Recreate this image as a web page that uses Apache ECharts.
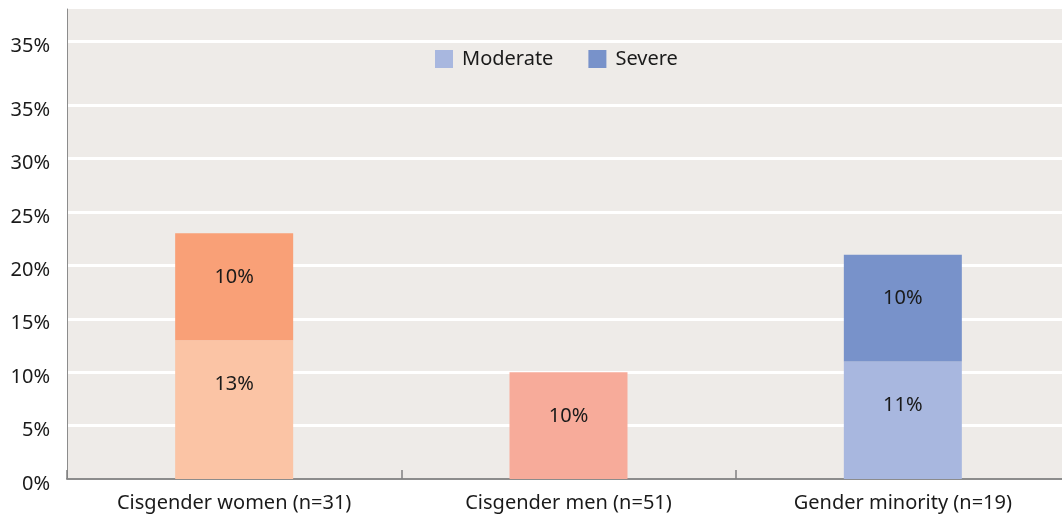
<!DOCTYPE html>
<html lang="en">
<head>
    <meta charset="UTF-8">
    <title>Severity by gender</title>
    <style>
        html, body { margin: 0; padding: 0; background: #fff; overflow: hidden; }
        #root { width: 1070px; height: 520px; }
    </style>
</head>
<body>
    <div id="root"></div>
    <script src="https://cdn.jsdelivr.net/npm/echarts@6/dist/echarts.min.js"></script>
    <script>
        // data
        var categories = ["Cisgender women (n=31)", "Cisgender men (n=51)", "Gender minority (n=19)"];
        var moderate = [13, 10, 11];
        var severe = [10, null, 10];
        var moderateColors = ["#fbc4a5", "#f7ab9a", "#a8b7df"];
        var severeColors = ["#f9a077", null, "#7892ca"];
        // tick values and the (odd) labels printed at them
        var tickValues = [0, 5, 10, 15, 20, 25, 30, 35, 41];
        var tickLabels = ["0%", "5%", "10%", "15%", "20%", "25%", "30%", "35%", "35%"];

        var font = "Noto Sans";
        var chart = echarts.init(document.getElementById("root"));

        var barLabel = {
            show: true,
            position: "insideTop",
            distance: 34,
            fontSize: 20,
            color: "#1a1a1a",
            fontFamily: font,
            formatter: "{c}%"
        };

        var option = {
            animation: false,
            textStyle: { fontFamily: font },
            legend: {
                left: 435,
                top: 49,
                padding: 0,
                itemWidth: 18,
                itemHeight: 18,
                itemGap: 35,
                icon: "rect",
                textStyle: { fontSize: 20, color: "#1a1a1a", fontFamily: font, padding: [0, 0, 0, 4] },
                data: [
                    { name: "Moderate", itemStyle: { color: "#a8b7df" } },
                    { name: "Severe", itemStyle: { color: "#7892ca" } }
                ]
            },
            grid: {
                left: 67,
                right: 0,
                top: 9,
                bottom: 41,
                containLabel: false,
                show: true,
                backgroundColor: "#eeebe8",
                borderWidth: 0
            },
            xAxis: {
                type: "category",
                data: categories,
                axisLine: { lineStyle: { color: "#8c8c8c", width: 2 } },
                axisTick: { show: true, inside: true, length: 9, lineStyle: { color: "#808080", width: 1.5 } },
                axisLabel: { fontSize: 20, color: "#1a1a1a", margin: 14, fontFamily: font }
            },
            yAxis: {
                type: "value",
                min: 0,
                max: 44,
                axisLine: { show: true, lineStyle: { color: "#8c8c8c", width: 1 } },
                axisTick: { show: false, customValues: tickValues },
                axisLabel: {
                    customValues: tickValues,
                    fontSize: 20,
                    color: "#1a1a1a",
                    margin: 17,
                    verticalAlign: "top",
                    lineHeight: 10,
                    fontFamily: font,
                    formatter: function (v) {
                        return tickLabels[tickValues.indexOf(v)];
                    }
                },
                splitLine: { show: true, lineStyle: { color: "#ffffff", width: 3 } }
            },
            series: [
                {
                    name: "Moderate",
                    type: "bar",
                    stack: "s",
                    barWidth: 118,
                    itemStyle: { color: "#a8b7df" },
                    data: moderate.map(function (v, i) {
                        return { value: v, itemStyle: { color: moderateColors[i] } };
                    }),
                    label: barLabel
                },
                {
                    name: "Severe",
                    type: "bar",
                    stack: "s",
                    barWidth: 118,
                    itemStyle: { color: "#7892ca" },
                    data: severe.map(function (v, i) {
                        return v == null ? "-" : { value: v, itemStyle: { color: severeColors[i] } };
                    }),
                    label: barLabel
                }
            ]
        };
        chart.setOption(option);
    </script>
</body>
</html>
